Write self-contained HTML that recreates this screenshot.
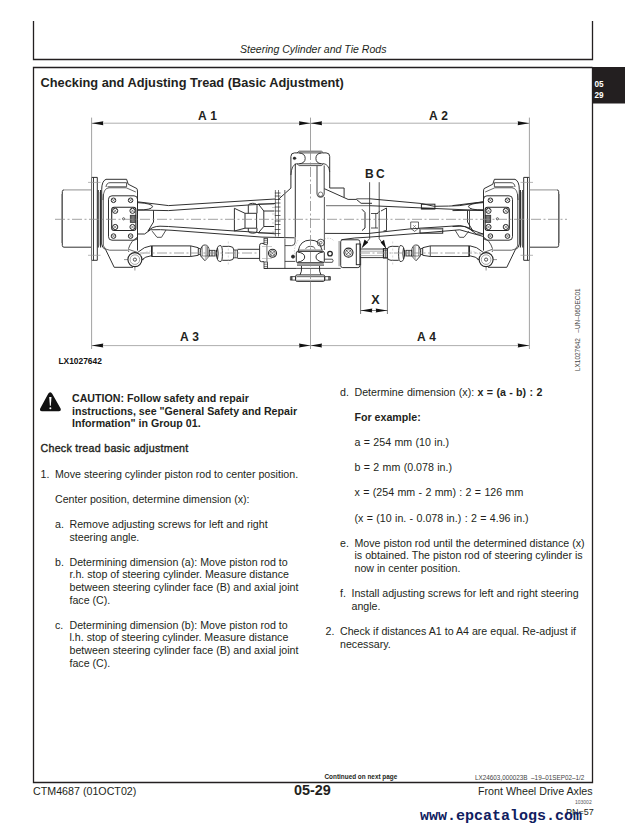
<!DOCTYPE html>
<html><head><meta charset="utf-8">
<style>
html,body{margin:0;padding:0;background:#fff;}
body{width:632px;height:831px;position:relative;overflow:hidden;font-family:"Liberation Sans",sans-serif;color:#231f20;}
.t{position:absolute;white-space:nowrap;font-size:10.65px;line-height:12.6px;}
.b{font-weight:bold;}
svg{position:absolute;left:0;top:0;}
</style></head><body>
<svg width="632" height="831" viewBox="0 0 632 831">
 <g fill="none" stroke="#231f20" stroke-width="1.3">
  <path d="M33.5 21 V59.5 H592.5 V21"/>
  <path d="M592.5 67.5 H33.5 V782.5 H592.5 V67.5"/>
 </g>
 <rect x="592" y="67" width="33" height="36.5" fill="#231f20"/>

<g fill="none" stroke="#262626" stroke-width="0.95">
 <!-- hub -->
 <path d="M91.5 247.2 H64 Q62.3 247.2 62.3 245.5 V191.6 Q62.3 189.9 64 189.9" />
 <path d="M64 189.9 H91.5" stroke="#999" stroke-width="1.1"/>
 <path d="M61.9 194 V243" stroke="#777" stroke-width="1"/>
 <!-- flange -->
 <path d="M91.5 260.3 V177.4 H97.3 V260.3 Z"/>
 <path d="M93.5 177.4 V260.3" stroke-width="0.9"/>
 <path d="M88 182.4 H100.5 M88 255.3 H100.5" stroke="#999" stroke-width="0.7"/>
 <!-- ring -->
 <path d="M98.2 190 V247.6 M100.6 190 V247.6" stroke-width="1.1"/>
 <path d="M99.4 192 V245.6" stroke="#bbb" stroke-width="0.9"/>
 <!-- knuckle outer -->
 <path d="M101.7 244 V189.8 Q101.7 181 106 179.3 H126.6 L128.2 184.2 L136.9 188.6 Q137.5 189.5 137.5 192 V250.6"/>
 <path d="M106 187 Q106.5 182.7 110 182.7 H126.6 V186.8 H107.5" stroke-width="0.8"/>
 <path d="M102.9 200 Q103 188 109 187.8 H126.2 L135.8 192" stroke-width="0.7"/>
 <path d="M101.7 244 Q102 248 105.7 249.7 L114.2 267.3 H133"/>
 <path d="M103.5 246 Q105 250 109.5 250.2 H127.5 Q129 250.5 128.8 252" stroke-width="0.7"/>
 <path d="M128.5 248.7 Q131 240.5 137.5 237.3" stroke-width="0.8"/>
 <!-- plate -->
 <rect x="108.5" y="195.8" width="29" height="44.4" rx="3.5"/>
 <rect x="111.7" y="207.3" width="24.2" height="23.2" rx="2.5" stroke-width="1.1"/>
 <circle cx="113.5" cy="200.3" r="2.3"/><circle cx="130.6" cy="200.3" r="2.3"/>
 <circle cx="113.5" cy="236.1" r="2.3"/><circle cx="130.6" cy="236.1" r="2.3"/>
 <circle cx="115.2" cy="210.8" r="2.6"/><circle cx="132.5" cy="210.8" r="2.6"/>
 <circle cx="115.2" cy="227" r="2.6"/><circle cx="132.5" cy="227" r="2.6"/>
 <circle cx="123.6" cy="218.8" r="1.1" stroke-width="0.7"/>
 <path d="M112 198.8 L115 201.8 M115 198.8 L112 201.8 M129.1 198.8 L132.1 201.8 M132.1 198.8 L129.1 201.8 M112 234.6 L115 237.6 M115 234.6 L112 237.6 M129.1 234.6 L132.1 237.6 M132.1 234.6 L129.1 237.6" stroke-width="0.5"/>
 <path d="M103.4 194 V246" stroke-width="0.7"/>
 <path d="M113.5 209.1 L116.9 212.5 M116.9 209.1 L113.5 212.5 M130.8 209.1 L134.2 212.5 M134.2 209.1 L130.8 212.5 M113.5 225.3 L116.9 228.7 M116.9 225.3 L113.5 228.7 M130.8 225.3 L134.2 228.7 M134.2 225.3 L130.8 228.7" stroke-width="0.5"/>
 <rect x="130.2" y="215.2" width="5.6" height="7.4" fill="#555" stroke-width="0.6"/>
 <path d="M131.5 217 H134.5 M131.5 219 H134.5 M131.5 221 H134.5" stroke="#ddd" stroke-width="0.5"/>
 <!-- ball joint -->
 <circle cx="134.9" cy="259.6" r="7" stroke-width="1.15"/>
 <circle cx="134.9" cy="259.6" r="4.8" stroke="#999" stroke-width="0.9"/>
 <circle cx="134.9" cy="259.6" r="1.6" stroke-width="0.8"/>
 <path d="M134.9 266.6 V270.5 M127.9 259.6 H124 M141.9 259.6 H144" stroke-width="0.5"/>
 <path d="M128.1 249.2 L137.7 252.5" stroke-width="0.7"/>
 <!-- arm -->
 <path d="M151.6 245.7 Q144 246.5 138.1 252.1"/>
 <path d="M151.6 255.7 Q145 256.5 141.7 259.9"/>
 <path d="M151 251 Q145 251.5 140 256" stroke="#aaa" stroke-width="0.5" stroke-dasharray="2 1.5"/>
 <!-- tie rod tube -->
 <path d="M151.8 245.9 H190.7 L198.3 247.7 V255.3 L190.7 256.5 H151.8 Z"/>
 <path d="M151.8 245.9 V256.5" stroke-width="1.5"/>
 <path d="M190.7 245.9 V256.5" stroke-width="0.8"/>
 <path d="M198.3 248.5 H200.3 V254.5 H198.3" stroke-width="0.8"/>
 <!-- ball joint diamond -->
 <path d="M200.7 250.5 Q201.2 245 204.9 245 Q208.7 245 209.2 250.5 V256 L204.9 260.7 L200.7 256 Z" fill="#fff"/>
 <path d="M204.9 245.3 Q208.5 245.5 209 250.5 V256 L204.9 260.5 Z" fill="#c4c4c4" stroke="none"/>
 <path d="M201 256 H208.8 M202.3 246.5 V256 M207.3 246.5 V256" stroke-width="0.5"/>
 <rect x="209.2" y="250.3" width="5.7" height="5.7" stroke-width="0.8"/>
 <path d="M211.3 250.3 V256 M212.7 250.3 V256" stroke-width="0.6"/>
 <path d="M216.4 250 V256.5" stroke-width="1.4"/>
 <path d="M216.4 253.5 Q216.8 246 219.5 245.7 H221 Q222.4 246.5 222.4 253.5 Q222.4 261 221 261.4 H219.5 Q216.8 261 216.4 253.5 Z"/>
 <path d="M217.5 248 Q219 253.5 217.5 259" stroke-width="0.9"/>
 <path d="M222.4 246.4 H230 Q233.8 246.6 233.8 250 V257 Q233.8 260.3 230 260.3 H222.4"/>
 <path d="M233.7 250 H237.5 V257.8 H233.7" stroke-width="0.8"/>
 <path d="M235.8 250 V257.8" stroke-width="0.5"/>
 <path d="M228.3 241.5 V265" stroke="#aaa" stroke-width="0.5" stroke-dasharray="2 1.5"/>
 <!-- tube near knuckle -->
 <path d="M137.5 201.8 L168.5 205.6"/>
 <path d="M137.5 202.6 Q153 203.5 152.5 206.8 Q151.5 210 137.5 210"/>
 <path d="M137.5 210 L168.5 210.6"/>
 <path d="M153.5 210.6 V222 L147.8 231.3 Q152 226.3 160 226.2 L168.5 226.5"/>
 <path d="M137.5 234 H144.6 Q147.5 232 150.3 229.8"/>
 <path d="M152.2 231.2 L157 237.3 H161.5 L166 230" stroke-width="0.8"/>
</g>
<g transform="matrix(-1,0,0,1,621.0,0)">
<g fill="none" stroke="#262626" stroke-width="0.95">
 <!-- hub -->
 <path d="M91.5 247.2 H64 Q62.3 247.2 62.3 245.5 V191.6 Q62.3 189.9 64 189.9" />
 <path d="M64 189.9 H91.5" stroke="#999" stroke-width="1.1"/>
 <path d="M61.9 194 V243" stroke="#777" stroke-width="1"/>
 <!-- flange -->
 <path d="M91.5 260.3 V177.4 H97.3 V260.3 Z"/>
 <path d="M93.5 177.4 V260.3" stroke-width="0.9"/>
 <path d="M88 182.4 H100.5 M88 255.3 H100.5" stroke="#999" stroke-width="0.7"/>
 <!-- ring -->
 <path d="M98.2 190 V247.6 M100.6 190 V247.6" stroke-width="1.1"/>
 <path d="M99.4 192 V245.6" stroke="#bbb" stroke-width="0.9"/>
 <!-- knuckle outer -->
 <path d="M101.7 244 V189.8 Q101.7 181 106 179.3 H126.6 L128.2 184.2 L136.9 188.6 Q137.5 189.5 137.5 192 V250.6"/>
 <path d="M106 187 Q106.5 182.7 110 182.7 H126.6 V186.8 H107.5" stroke-width="0.8"/>
 <path d="M102.9 200 Q103 188 109 187.8 H126.2 L135.8 192" stroke-width="0.7"/>
 <path d="M101.7 244 Q102 248 105.7 249.7 L114.2 267.3 H133"/>
 <path d="M103.5 246 Q105 250 109.5 250.2 H127.5 Q129 250.5 128.8 252" stroke-width="0.7"/>
 <path d="M128.5 248.7 Q131 240.5 137.5 237.3" stroke-width="0.8"/>
 <!-- plate -->
 <rect x="108.5" y="195.8" width="29" height="44.4" rx="3.5"/>
 <rect x="111.7" y="207.3" width="24.2" height="23.2" rx="2.5" stroke-width="1.1"/>
 <circle cx="113.5" cy="200.3" r="2.3"/><circle cx="130.6" cy="200.3" r="2.3"/>
 <circle cx="113.5" cy="236.1" r="2.3"/><circle cx="130.6" cy="236.1" r="2.3"/>
 <circle cx="115.2" cy="210.8" r="2.6"/><circle cx="132.5" cy="210.8" r="2.6"/>
 <circle cx="115.2" cy="227" r="2.6"/><circle cx="132.5" cy="227" r="2.6"/>
 <circle cx="123.6" cy="218.8" r="1.1" stroke-width="0.7"/>
 <path d="M112 198.8 L115 201.8 M115 198.8 L112 201.8 M129.1 198.8 L132.1 201.8 M132.1 198.8 L129.1 201.8 M112 234.6 L115 237.6 M115 234.6 L112 237.6 M129.1 234.6 L132.1 237.6 M132.1 234.6 L129.1 237.6" stroke-width="0.5"/>
 <path d="M103.4 194 V246" stroke-width="0.7"/>
 <path d="M113.5 209.1 L116.9 212.5 M116.9 209.1 L113.5 212.5 M130.8 209.1 L134.2 212.5 M134.2 209.1 L130.8 212.5 M113.5 225.3 L116.9 228.7 M116.9 225.3 L113.5 228.7 M130.8 225.3 L134.2 228.7 M134.2 225.3 L130.8 228.7" stroke-width="0.5"/>
 <rect x="130.2" y="215.2" width="5.6" height="7.4" fill="#555" stroke-width="0.6"/>
 <path d="M131.5 217 H134.5 M131.5 219 H134.5 M131.5 221 H134.5" stroke="#ddd" stroke-width="0.5"/>
 <!-- ball joint -->
 <circle cx="134.9" cy="259.6" r="7" stroke-width="1.15"/>
 <circle cx="134.9" cy="259.6" r="4.8" stroke="#999" stroke-width="0.9"/>
 <circle cx="134.9" cy="259.6" r="1.6" stroke-width="0.8"/>
 <path d="M134.9 266.6 V270.5 M127.9 259.6 H124 M141.9 259.6 H144" stroke-width="0.5"/>
 <path d="M128.1 249.2 L137.7 252.5" stroke-width="0.7"/>
 <!-- arm -->
 <path d="M151.6 245.7 Q144 246.5 138.1 252.1"/>
 <path d="M151.6 255.7 Q145 256.5 141.7 259.9"/>
 <path d="M151 251 Q145 251.5 140 256" stroke="#aaa" stroke-width="0.5" stroke-dasharray="2 1.5"/>
 <!-- tie rod tube -->
 <path d="M151.8 245.9 H190.7 L198.3 247.7 V255.3 L190.7 256.5 H151.8 Z"/>
 <path d="M151.8 245.9 V256.5" stroke-width="1.5"/>
 <path d="M190.7 245.9 V256.5" stroke-width="0.8"/>
 <path d="M198.3 248.5 H200.3 V254.5 H198.3" stroke-width="0.8"/>
 <!-- ball joint diamond -->
 <path d="M200.7 250.5 Q201.2 245 204.9 245 Q208.7 245 209.2 250.5 V256 L204.9 260.7 L200.7 256 Z" fill="#fff"/>
 <path d="M204.9 245.3 Q208.5 245.5 209 250.5 V256 L204.9 260.5 Z" fill="#c4c4c4" stroke="none"/>
 <path d="M201 256 H208.8 M202.3 246.5 V256 M207.3 246.5 V256" stroke-width="0.5"/>
 <rect x="209.2" y="250.3" width="5.7" height="5.7" stroke-width="0.8"/>
 <path d="M211.3 250.3 V256 M212.7 250.3 V256" stroke-width="0.6"/>
 <path d="M216.4 250 V256.5" stroke-width="1.4"/>
 <path d="M216.4 253.5 Q216.8 246 219.5 245.7 H221 Q222.4 246.5 222.4 253.5 Q222.4 261 221 261.4 H219.5 Q216.8 261 216.4 253.5 Z"/>
 <path d="M217.5 248 Q219 253.5 217.5 259" stroke-width="0.9"/>
 <path d="M222.4 246.4 H230 Q233.8 246.6 233.8 250 V257 Q233.8 260.3 230 260.3 H222.4"/>
 <path d="M233.7 250 H237.5 V257.8 H233.7" stroke-width="0.8"/>
 <path d="M235.8 250 V257.8" stroke-width="0.5"/>
 <path d="M228.3 241.5 V265" stroke="#aaa" stroke-width="0.5" stroke-dasharray="2 1.5"/>
 <!-- tube near knuckle -->
 <path d="M137.5 201.8 L168.5 205.6"/>
 <path d="M137.5 202.6 Q153 203.5 152.5 206.8 Q151.5 210 137.5 210"/>
 <path d="M137.5 210 L168.5 210.6"/>
 <path d="M153.5 210.6 V222 L147.8 231.3 Q152 226.3 160 226.2 L168.5 226.5"/>
 <path d="M137.5 234 H144.6 Q147.5 232 150.3 229.8"/>
 <path d="M152.2 231.2 L157 237.3 H161.5 L166 230" stroke-width="0.8"/>
</g>
</g>
<g fill="none" stroke="#262626" stroke-width="0.95">
 <!-- left tube lines -->
 <path d="M168.5 205.6 L275 199"/>
 <path d="M168.5 210.6 L248.3 205 L275 203.5"/>
 <path d="M168.5 226.5 L235 231 L245 231.5 L275 233.8"/>
 <path d="M150.3 229.8 Q160 229.3 172 230.3 L262 237.1 L294.4 237.8"/>
 <!-- left coupling -->
 <path d="M234.4 208.3 L245 213.3 V228.2 L234.4 231 Z"/>
 <path d="M245 213.3 H256.6 V228.2 H245"/>
 <path d="M248.3 213.3 V205.5 Q248.5 203.3 252.5 203.3 Q256.8 203.3 257 205.5 V213.3"/>
 <path d="M248.3 228.2 V231 Q248.5 233.2 252.5 233.2 Q256.8 233.2 257 231 V228.2"/>
 <path d="M258.2 203.9 L263.8 211 H274.3 M263.8 211 V226.5 H274.3 M258.2 233 L263.8 226.5"/>
 <path d="M258.2 203.9 H274.3 M258.2 233 H274.3" stroke-width="0.7"/>
 <!-- ring gear -->
 <path d="M275.4 190 V236.5 M278.5 190 V236.5" stroke="#555" stroke-width="0.8"/>
 <path d="M274.8 193 H280.5 M274.8 196 H280.5 M274.8 199.5 H280.5 M274.8 203 H280.5 M274.8 207 H280.5 M274.8 211 H280.5 M274.8 215.5 H280.5 M274.8 221 H280.5 M274.8 224.5 H280.5 M274.8 229.5 H280.5 M274.8 233.5 H280.5" stroke-width="0.7"/>
 <path d="M272 207.5 H275 M272 214 H275 M272 223 H275 M272 232 H275" stroke="#999" stroke-width="0.5"/>
 <path d="M278.2 199.5 L290.9 188.1"/>
 <path d="M284.8 190 V237.5" stroke="#777" stroke-width="1.2"/>
 <!-- tower -->
 <path d="M290.9 188.1 V156.5 Q290.9 152.9 294.5 152.9 H297 M323.5 152.9 H326.1 Q329.7 152.9 329.7 156.5 V188 H344.1 V197.4"/>
 <path d="M290.9 175 Q291.5 164.5 297 163.6 M323.5 163.6 Q329 164.5 329.7 172" stroke-width="0.8"/>
 <path d="M295.3 163.6 V237.2"/>
 <path d="M299.2 151.2 H321.4 L323.5 152.9 H297 Z" stroke-width="0.8"/>
 <path d="M297 163.8 H323.5 L321.4 165.6 H299.2 Z" stroke-width="0.8"/>
 <path d="M299.2 152.9 Q305.2 153.5 305.2 158.4 Q305.2 163.2 299.2 163.8" stroke-width="0.9"/>
 <path d="M321.4 152.9 Q315.9 153.5 315.9 158.4 Q315.9 163.2 321.4 163.8" stroke-width="0.9"/>
 <circle cx="294.5" cy="158.3" r="1.3" fill="#262626" stroke-width="0.5"/>
 <path d="M293 158.3 H296.5" stroke-width="0.6"/>
 <path d="M317 165.6 V193.5 A3.6 3.6 0 0 0 324.2 193.5 V165.6" stroke="#555" stroke-width="1.1"/>
 <circle cx="320.6" cy="194.2" r="2.2" stroke-width="0.6"/>
 <path d="M324.4 197 V250" stroke="#666" stroke-width="1.1"/>
 <path d="M324.4 188.7 L348.1 199.4 H356.4 L361.1 203.3 H372"/>
 <path d="M356.4 198.8 L370 198.8" stroke-width="0.8"/>
 <path d="M326 205.7 H370" stroke="#888" stroke-width="1.3"/>
 <!-- right tube -->
 <path d="M370 198.8 L421.4 203.5 L434.2 206.3 Q450 206.2 459.8 205.6 L483.5 201.8"/>
 <path d="M370 205.7 L483.5 210.6"/>
 <path d="M325 233.4 L368 233.5 L410 228.9 L459.8 225.6 Q465.5 226 469.8 229.3 L483.5 234.2"/>
 <path d="M341.4 239.7 Q355 237.5 368 237.2 L410 234 L459.8 229.8 L483.5 236.5"/>
 <rect x="421.4" y="204.2" width="13.5" height="4.8" stroke-width="1"/>
 <path d="M421.4 208.5 H434.9" stroke-width="1.3"/>
 <rect x="420" y="228.4" width="22.7" height="4.8" stroke-width="1"/>
 <path d="M420 229 H442.7" stroke="#888" stroke-width="1.3"/>
 <path d="M410.7 222 H418.5 V228.3 L414.6 231.4 L410.7 228.3 Z" stroke-width="0.7"/>
 <path d="M413 225 L416 228 M416 225 L413 228" stroke-width="0.4"/>
 <path d="M469.5 210.6 V229" stroke-width="0.8"/>
 <!-- right coupling -->
 <path d="M362 209.3 L365 212.5 V228 L362 230.5" stroke-width="1"/>
 <path d="M371 213.5 H378 M375.8 213.5 V228 M371 228 H378" stroke-width="0.8"/>
 <path d="M377 213.5 L380 211" stroke-width="0.7"/>
 <path d="M381 211 L386.5 208 V230.5 L383.5 231" stroke-width="0.9"/>
 <!-- cylinder bracket left -->
 <path d="M264 243.4 H261.6 Q259.6 243.4 259.6 245.4 V259.7 Q259.6 261.7 261.6 261.7 H264"/>
 <rect x="264" y="238.3" width="3.5" height="6" stroke-width="0.8"/>
 <path d="M264 240.3 H267.5 M264 242.3 H267.5" stroke-width="0.6"/>
 <rect x="264" y="262" width="3.5" height="6.5" stroke-width="0.8"/>
 <path d="M264 264.2 H267.5 M264 266.4 H267.5" stroke-width="0.6"/>
 <path d="M266.9 244.3 V262" stroke="#888" stroke-width="1.2"/>
 <path d="M284.9 238.5 V268.4" stroke="#777" stroke-width="1.2"/>
 <path d="M284.9 261.4 H295.3" stroke-width="0.8"/>
 <path d="M262 246.5 H272 M262 258.5 H272" stroke="#999" stroke-width="0.5"/>
 <path d="M264 268.4 H296"/>
 <circle cx="272.5" cy="253.2" r="4" stroke-width="1.1"/>
 <circle cx="272.5" cy="253.2" r="2.6" stroke-width="0.6"/>
 <path d="M270.2 251 L274.8 255.5 M270.2 255.4 L274.6 251" stroke-width="0.6"/>
 <path d="M237.5 249.3 H259.3 M237.5 258.4 H259.3"/>
 <path d="M295.1 237.2 V242 Q295.1 245.6 291.5 245.6 H284.9" stroke-width="0.8"/>
 <!-- pinion -->
 <path d="M298.2 251 Q300 240.1 310.4 240.1 Q320.5 240.1 321.7 249.7"/>
 <path d="M305.6 248.8 Q307 246.2 310.4 246.2 Q313.8 246.2 315.3 248.8" stroke-width="0.8"/>
 <path d="M298 250.1 H323" stroke-width="0.7"/>
 <rect x="296.3" y="251.4" width="28" height="11.3" rx="1.5"/>
 <path d="M297.5 252 Q304.7 253 304.7 257 Q304.7 261 297.5 262.2 M323.2 252 Q316 253 316 257 Q316 261 323.2 262.2"/>
 <path d="M297 264 H324 M297 265.3 H324" stroke-width="0.7"/>
 <path d="M301.5 266 Q302 272 300 274.9 M319.5 266 Q319 272 321 274.9"/>
 <rect x="295.6" y="274.9" width="29.1" height="6.5" rx="1.5"/>
 <path d="M296.5 276.6 H324" stroke="#777" stroke-width="1.2"/>
 <path d="M297 280.3 H324" stroke="#888" stroke-width="0.9"/>
 <path d="M290.4 276.6 H295.6 V280.1 H290.4 Z M324.7 276.6 H330.4 V280.1 H324.7 Z" stroke-width="0.8"/>
 <path d="M291.8 276.6 V280.1 M329 276.6 V280.1" stroke-width="1.2"/>
 <circle cx="320.8" cy="242.7" r="3.5" stroke-width="0.8"/>
 <circle cx="320.8" cy="242.7" r="1.3" stroke-width="0.6"/>
 <circle cx="330" cy="253.6" r="2.3" stroke-width="1.3"/>
 <circle cx="293" cy="256.6" r="1.5" fill="#262626"/>
 <path d="M324.3 259.2 H332.4 Q333.9 260.7 332.4 262.3 H324.3" stroke-width="0.8"/>
 <path d="M296 268.4 H340.7" stroke-width="0.8"/>
 <path d="M298 240 Q292 250 296 258 M322 240 Q330 236 334 241" stroke="#999" stroke-width="0.5" stroke-dasharray="1.5 1.2"/>
 <!-- steering cylinder right -->
 <rect x="340.7" y="239.8" width="19.2" height="27.8" rx="2"/>
 <path d="M339.1 241 V266.2" stroke="#999" stroke-width="1.2"/>
 <rect x="356.3" y="244" width="4.3" height="20.7"/>
 <circle cx="348.5" cy="252.6" r="4.5" stroke-width="1.1"/>
 <circle cx="348.5" cy="252.6" r="2.9" stroke-width="0.6"/>
 <path d="M346 250 L351 255.2 M346 254.8 L351 250.3" stroke-width="0.6"/>
 <path d="M360.6 249 H383.4 V257.6 H360.6" stroke-width="0.9"/>
 <path d="M360.6 251.2 H383.4 M360.6 255.6 H383.4" stroke="#999" stroke-width="0.8"/>
 <rect x="383.4" y="248.5" width="4" height="9.5" stroke-width="0.9"/>
 <path d="M385.4 248.5 V258" stroke-width="0.5"/>
</g>

<g fill="none" stroke="#8a8a8a" stroke-width="0.8">
 <path d="M55 219.3 H567" stroke-dasharray="10 2.5 2 2.5"/>
 <path d="M140 253 H259 M360 253 H481" stroke-dasharray="10 2.5 2 2.5"/>
 <path d="M91.6 117.6 V349 M529.4 117.6 V349"/>
 <path d="M310.5 117.6 V150 M310.5 282 V349"/>
 <path d="M310.5 150 V282" stroke-dasharray="10 2.5 2 2.5"/>
 <path d="M91.6 123.2 H529.4 M91.6 345.6 H529.4" stroke="#999"/>
 <path d="M360.6 259 V314 M387.4 259 V314" stroke="#444" stroke-width="0.7"/>
 <path d="M360.6 310.5 H387.4" stroke="#444" stroke-width="0.7"/>
 <path d="M369.6 182.2 V238.7 L362 247.7 M379.2 182.2 V238.7 L386 248.3" stroke="#262626" stroke-width="0.8"/>
</g>
<g fill="#111">
 <path d="M91.6 123.2 L103.3 121.2 Q102.5 123.2 103.3 125.2 Z"/>
 <path d="M310.5 123.2 L299 121.2 Q299.8 123.2 299 125.2 Z"/>
 <path d="M310.5 123.2 L322 121.2 Q321.2 123.2 322 125.2 Z"/>
 <path d="M529.4 123.2 L517.7 121.2 Q518.5 123.2 517.7 125.2 Z"/>
 <path d="M91.6 345.6 L103.3 343.6 Q102.5 345.6 103.3 347.6 Z"/>
 <path d="M310.5 345.6 L299 343.6 Q299.8 345.6 299 347.6 Z"/>
 <path d="M310.5 345.6 L322 343.6 Q321.2 345.6 322 347.6 Z"/>
 <path d="M529.4 345.6 L517.7 343.6 Q518.5 345.6 517.7 347.6 Z"/>
 <path d="M360.6 310.5 L372.3 308.5 Q371.5 310.5 372.3 312.5 Z"/>
 <path d="M387.4 310.5 L375.7 308.5 Q376.5 310.5 375.7 312.5 Z"/>
 <path d="M362 247.7 L364.5 239.5 L368.2 242.6 Z"/>
 <path d="M386 248.3 L380.6 242.6 L384 239.8 Z"/>
</g>

</svg>

<div class="t b" style="left:198px;top:109.5px;font-size:12px;line-height:13px;letter-spacing:0.4px">A 1</div>
<div class="t b" style="left:429px;top:109.5px;font-size:12px;line-height:13px;letter-spacing:0.4px">A 2</div>
<div class="t b" style="left:180px;top:330.5px;font-size:12px;line-height:13px;letter-spacing:0.4px">A 3</div>
<div class="t b" style="left:417px;top:330.5px;font-size:12px;line-height:13px;letter-spacing:0.4px">A 4</div>
<div class="t b" style="left:365px;top:168px;font-size:12px;line-height:13px">B</div>
<div class="t b" style="left:376px;top:168px;font-size:12px;line-height:13px">C</div>
<div class="t b" style="left:371.2px;top:294.2px;font-size:12.6px;line-height:13px">X</div>
<div class="t b" style="left:58.5px;top:356.5px;font-size:8.4px;line-height:9px;color:#111">LX1027642</div>
<div class="t" id="rot" style="left:574.3px;top:370.8px;font-size:6.45px;line-height:8px;color:#444;transform:rotate(-90deg);transform-origin:0 0">LX1027642 &nbsp;&nbsp;–UN–06DEC01</div>

<svg width="632" height="831" viewBox="0 0 632 831" style="position:absolute;left:0;top:0">
 <path d="M50.2 392.2 Q51.4 392.2 52.2 393.7 L60.6 408.6 Q61.5 411.2 58.8 411.2 H42 Q39.3 411.2 40.2 408.6 L48.2 393.7 Q49 392.2 50.2 392.2 Z" fill="#111"/>
 <path d="M49.2 397 H51.5 L50.8 405.8 H49.9 Z" fill="#fff"/>
 <circle cx="50.35" cy="408.2" r="1" fill="#fff"/>
</svg>

<div class="t" style="left:594.5px;top:78.5px;font-size:8.2px;color:#fff;font-weight:bold;line-height:11px">05<br>29</div>

<div class="t" style="left:240px;top:42.5px;font-style:italic;font-size:10.55px">Steering Cylinder and Tie Rods</div>
<div class="t b" style="left:40.5px;top:74.5px;font-size:12.8px;line-height:15px">Checking and Adjusting Tread (Basic Adjustment)</div>

<!-- left column -->
<div class="t b" style="left:72px;top:392px">CAUTION: Follow safety and repair<br>instructions, see "General Safety and Repair<br>Information" in Group 01.</div>
<div class="t" style="left:40.5px;top:442.4px;letter-spacing:0.28px;-webkit-text-stroke:0.35px #231f20">Check tread basic adjustment</div>
<div class="t" style="left:40.5px;top:467.6px">1.</div>
<div class="t" style="left:55px;top:467.6px">Move steering cylinder piston rod to center position.</div>
<div class="t" style="left:55px;top:492.8px">Center position, determine dimension (x):</div>
<div class="t" style="left:55px;top:518px">a.</div>
<div class="t" style="left:69.5px;top:518px">Remove adjusting screws for left and right<br>steering angle.</div>
<div class="t" style="left:55px;top:555.8px">b.</div>
<div class="t" style="left:69.5px;top:555.8px">Determining dimension (a): Move piston rod to<br>r.h. stop of steering cylinder. Measure distance<br>between steering cylinder face (B) and axial joint<br>face (C).</div>
<div class="t" style="left:55px;top:618.8px">c.</div>
<div class="t" style="left:69.5px;top:618.8px">Determining dimension (b): Move piston rod to<br>l.h. stop of steering cylinder. Measure distance<br>between steering cylinder face (B) and axial joint<br>face (C).</div>

<!-- right column -->
<div class="t" style="left:340px;top:385.6px">d.</div>
<div class="t" style="word-spacing:0.4px;left:354.5px;top:385.6px">Determine dimension (x): <b>x = (a - b) : 2</b></div>
<div class="t b" style="left:354.5px;top:410.8px">For example:</div>
<div class="t" style="word-spacing:0.4px;left:354.5px;top:436px">a = 254 mm (10 in.)</div>
<div class="t" style="word-spacing:0.4px;left:354.5px;top:461.2px">b = 2 mm (0.078 in.)</div>
<div class="t" style="word-spacing:0.4px;left:354.5px;top:486.4px">x = (254 mm - 2 mm) : 2 = 126 mm</div>
<div class="t" style="word-spacing:0.4px;left:354.5px;top:511.6px">(x = (10 in. - 0.078 in.) : 2 = 4.96 in.)</div>
<div class="t" style="left:340px;top:536.8px">e.</div>
<div class="t" style="left:354.5px;top:536.8px">Move piston rod until the determined distance (x)<br>is obtained. The piston rod of steering cylinder is<br>now in center position.</div>
<div class="t" style="left:340px;top:587.2px">f.</div>
<div class="t" style="left:351.5px;top:587.2px">Install adjusting screws for left and right steering<br>angle.</div>
<div class="t" style="left:325.5px;top:625px">2.</div>
<div class="t" style="left:340px;top:625px">Check if distances A1 to A4 are equal. Re-adjust if<br>necessary.</div>

<!-- footer -->
<div class="t b" style="left:324.5px;top:773.2px;font-size:6.4px;line-height:8px">Continued on next page</div>
<div class="t" style="left:475px;top:774px;font-size:6.35px;line-height:8px;color:#444">LX24603,000023B &nbsp;–19–01SEP02–1/2</div>
<div class="t" style="left:33px;top:785px;font-size:10.7px">CTM4687 (01OCT02)</div>
<div class="t b" style="left:294px;top:782px;font-size:14.4px;line-height:16px">05-29</div>
<div class="t" style="left:478px;top:785px;font-size:10.7px">Front Wheel Drive Axles</div>
<div class="t" style="left:575px;top:798.5px;font-size:5px;line-height:6px;color:#555">103002</div>
<div class="t" style="left:566px;top:807px;font-size:9px;line-height:10px">PN=57</div>
<div class="t" style="left:420px;top:808.5px;font-family:'Liberation Mono',monospace;font-weight:bold;font-size:15px;line-height:16px;color:#102060">www.epcatalogs.com</div>
</body></html>
